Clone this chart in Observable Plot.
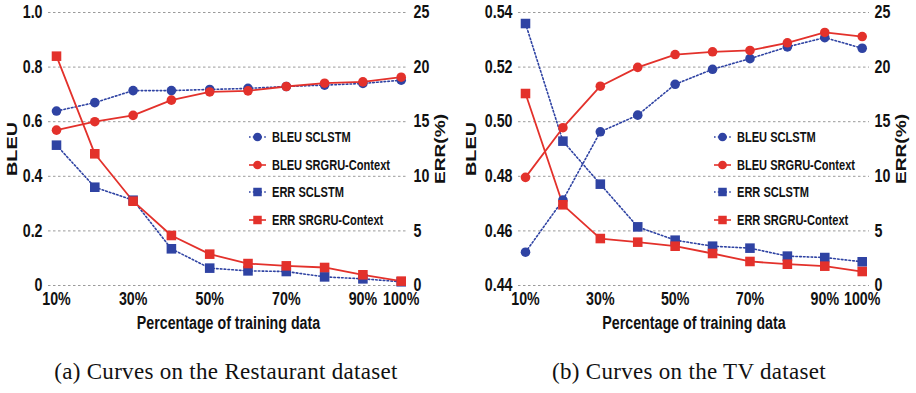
<!DOCTYPE html>
<html>
<head>
<meta charset="utf-8">
<script src="https://cdn.jsdelivr.net/npm/d3@7"></script>
<script src="https://cdn.jsdelivr.net/npm/@observablehq/plot@0.6"></script>
<style>
  html, body { margin: 0; padding: 0; background: #fff; }
  #wrap { position: relative; width: 916px; height: 393px; overflow: hidden; }
  .panel { position: absolute; top: 0; }
  .caption { position: absolute; width: 458px; text-align: center; font-family: "Liberation Serif", "Times New Roman", serif; font-size: 23px; letter-spacing: 0.3px; line-height: 26px; color: #111; top: 359px; }
</style>
</head>
<body>
<div id="wrap"></div>
<script>
// ---- data ----
const percentages = [10, 20, 30, 40, 50, 60, 70, 80, 90, 100];
const xTickValues = [10, 30, 50, 70, 90, 100];
const seriesNames = ["BLEU SCLSTM", "BLEU SRGRU-Context", "ERR SCLSTM", "ERR SRGRU-Context"];

// (a) Restaurant
const restBleuSCLSTM = [0.639, 0.670, 0.714, 0.714, 0.718, 0.722, 0.729, 0.734, 0.740, 0.752];
const restBleuSRGRU  = [0.569, 0.600, 0.623, 0.679, 0.709, 0.713, 0.729, 0.741, 0.746, 0.763];
const restErrSCLSTM  = [12.85, 9.0, 7.81, 3.36, 1.59, 1.34, 1.28, 0.79, 0.61, 0.34];
const restErrSRGRU   = [21.0, 12.06, 7.72, 4.58, 2.87, 2.01, 1.80, 1.65, 0.98, 0.40];
const restBleuTicks  = [0, 0.2, 0.4, 0.6, 0.8, 1.0];

// (b) TV
const tvBleuSCLSTM = [0.4522, 0.4713, 0.4963, 0.5024, 0.5137, 0.5192, 0.5231, 0.5274, 0.5308, 0.5269];
const tvBleuSRGRU  = [0.4796, 0.4978, 0.5130, 0.5199, 0.5246, 0.5256, 0.5261, 0.5289, 0.5327, 0.5312];
const tvErrSCLSTM  = [23.99, 13.22, 9.28, 5.37, 4.15, 3.60, 3.42, 2.69, 2.56, 2.17];
const tvErrSRGRU   = [17.58, 7.39, 4.30, 3.97, 3.60, 2.93, 2.20, 1.95, 1.77, 1.28];
const tvBleuTicks  = [0.44, 0.46, 0.48, 0.50, 0.52, 0.54];

const errTicks = [0, 5, 10, 15, 20, 25];
const captions = ["(a) Curves on the Restaurant dataset", "(b) Curves on the TV dataset"];

// ---- styles ----
const BLUE = "#2f43a3";
const RED = "#e3312b";
const FONT = '"Liberation Sans", Arial, sans-serif';

function panel(opts) {
  const {bleuA, bleuB, errA, errB, yTicks, yFmt, left, right, insetL, insetR, legendFromRight, ylabDx} = opts;
  const yDomain = [yTicks[0], yTicks[yTicks.length - 1]];
  const errToY = d3.scaleLinear([0, 25], yDomain);
  const rows = (vals, series, isErr) => vals.map((v, i) => ({x: percentages[i], y: isErr ? errToY(v) : v, series}));
  const sA = rows(bleuA, seriesNames[0], false);
  const sB = rows(bleuB, seriesNames[1], false);
  const sC = rows(errA, seriesNames[2], true);
  const sD = rows(errB, seriesNames[3], true);
  const W = 458, H = 340;
  const chart = Plot.plot({
    width: W, height: H,
    marginLeft: left, marginRight: W - right, marginTop: 12, marginBottom: H - 285,
    style: {fontFamily: FONT, background: "transparent", overflow: "visible"},
    x: {domain: [10, 100], insetLeft: insetL, insetRight: insetR},
    y: {domain: yDomain},
    marks: [
      Plot.ruleY(yTicks, {stroke: "#9a9a9a", strokeWidth: 1, strokeDasharray: "2.5,2.5"}),
      Plot.axisX(xTickValues, {tickSize: 0, tickPadding: 7, tickFormat: d => d + "%", fontSize: 18, fontWeight: "bold", fill: "#111", label: null}),
      Plot.axisY(yTicks, {anchor: "left", tickSize: 0, tickPadding: 6, tickFormat: yFmt, fontSize: 18, fontWeight: "bold", fill: "#111", label: null}),
      Plot.axisY(errTicks.map(e => errToY(e)), {anchor: "right", tickSize: 0, tickPadding: 5, tickFormat: d => String(Math.round(errToY.invert(d))), fontSize: 18, fontWeight: "bold", fill: "#111", label: null}),
      Plot.text(["Percentage of training data"], {frameAnchor: "bottom", lineAnchor: "middle", dy: 38, fontSize: 18, fontWeight: "bold", fill: "#111"}),
      Plot.text(["BLEU"], {frameAnchor: "left", textAnchor: "middle", lineAnchor: "middle", dx: ylabDx, rotate: -90, fontSize: 15, fontWeight: "bold", fill: "#111"}),
      Plot.text(["ERR(%)"], {frameAnchor: "right", textAnchor: "middle", lineAnchor: "middle", dx: 32, rotate: -90, fontSize: 15, fontWeight: "bold", fill: "#111"}),
      Plot.line(sA, {x: "x", y: "y", stroke: BLUE, strokeWidth: 1.6, strokeDasharray: "1.6,2.2"}),
      Plot.line(sC, {x: "x", y: "y", stroke: BLUE, strokeWidth: 1.6, strokeDasharray: "1.6,2.2"}),
      Plot.line(sB, {x: "x", y: "y", stroke: RED, strokeWidth: 1.8}),
      Plot.line(sD, {x: "x", y: "y", stroke: RED, strokeWidth: 1.8}),
      Plot.dot(sA, {x: "x", y: "y", r: 4.8, fill: BLUE, symbol: "circle"}),
      Plot.dot(sC, {x: "x", y: "y", r: 5.4, fill: BLUE, symbol: "square"}),
      Plot.dot(sB, {x: "x", y: "y", r: 4.8, fill: RED, symbol: "circle"}),
      Plot.dot(sD, {x: "x", y: "y", r: 5.4, fill: RED, symbol: "square"})
    ]
  });
  // legend inside plot
  const svg = d3.select(chart);
  const lx = right - legendFromRight;
  const rowY = [137, 165, 192, 220];
  const styles = [
    {c: BLUE, dash: "1.6,2.2", sym: d3.symbolCircle, size: 60},
    {c: RED, dash: null, sym: d3.symbolCircle, size: 60},
    {c: BLUE, dash: "1.6,2.2", sym: d3.symbolSquare, size: 72},
    {c: RED, dash: null, sym: d3.symbolSquare, size: 72}
  ];
  const g = svg.append("g").attr("class", "legend");
  seriesNames.forEach((name, i) => {
    const s = styles[i];
    g.append("line").attr("x1", lx).attr("x2", lx + 17).attr("y1", rowY[i]).attr("y2", rowY[i])
      .attr("stroke", s.c).attr("stroke-width", 1.6).attr("stroke-dasharray", s.dash);
    g.append("path").attr("d", d3.symbol(s.sym, s.size)()).attr("transform", `translate(${lx + 8.5},${rowY[i]})`).attr("fill", s.c);
    g.append("text").attr("x", lx + 23).attr("y", rowY[i]).attr("dy", "0.35em").attr("text-anchor", "start")
      .attr("font-family", FONT).attr("font-size", 14).attr("font-weight", "bold").attr("fill", "#111").text(name);
  });
  return chart;
}

const wrap = document.getElementById("wrap");
const pa = panel({bleuA: restBleuSCLSTM, bleuB: restBleuSRGRU, errA: restErrSCLSTM, errB: restErrSRGRU,
  yTicks: restBleuTicks, yFmt: d => d === 0 ? "0" : d.toFixed(1), left: 48, right: 408, insetL: 8, insetR: 7.3,
  legendFromRight: 159, ylabDx: -36});
const pb = panel({bleuA: tvBleuSCLSTM, bleuB: tvBleuSRGRU, errA: tvErrSCLSTM, errB: tvErrSRGRU,
  yTicks: tvBleuTicks, yFmt: d => d.toFixed(2), left: 60, right: 411, insetL: 7, insetR: 7.3,
  legendFromRight: 155, ylabDx: -47});
const da = document.createElement("div"); da.className = "panel"; da.style.left = "0px"; da.appendChild(pa);
const db = document.createElement("div"); db.className = "panel"; db.style.left = "458px"; db.appendChild(pb);
wrap.appendChild(da); wrap.appendChild(db);
captions.forEach((c, i) => {
  const el = document.createElement("div");
  el.className = "caption";
  el.style.left = (i === 0 ? -3 : 460) + "px";
  el.textContent = c;
  wrap.appendChild(el);
});
// condense the sans-serif labels to mimic the narrow bold face of the original;
// the rotated axis titles are spread instead, as in the original
const fixedLengths = {"BLEU": 54, "ERR(%)": 70};
wrap.querySelectorAll("svg text").forEach(t => {
  const w = t.getComputedTextLength();
  if (w <= 0) return;
  const txt = t.textContent.trim();
  const target = fixedLengths[txt] !== undefined ? fixedLengths[txt] : w * 0.79;
  t.setAttribute("textLength", target.toFixed(2));
  t.setAttribute("lengthAdjust", "spacingAndGlyphs");
});
</script>
</body>
</html>
